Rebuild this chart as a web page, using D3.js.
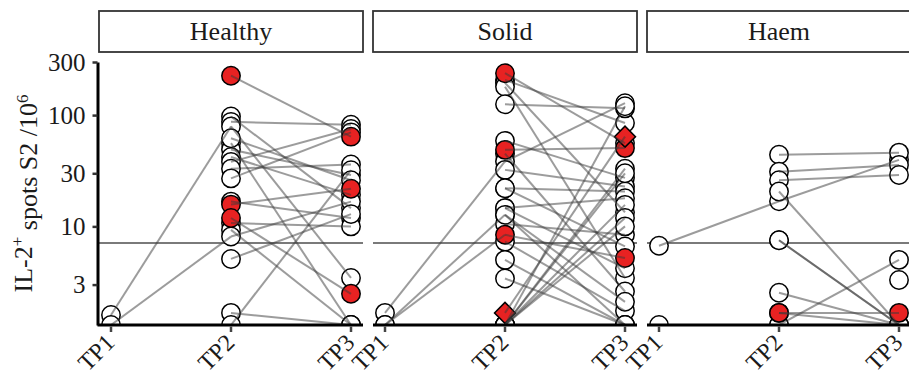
<!DOCTYPE html>
<html>
<head>
<meta charset="utf-8">
<script src="https://cdn.jsdelivr.net/npm/d3@7"></script>
<style>
  body { margin: 0; background: #fff; }
  svg { display: block; font-family: "Liberation Serif", "DejaVu Serif", serif; }
</style>
</head>
<body>
<figure id="chart" style="margin:0"></figure>
<script>
const timepoints = ["TP1", "TP2", "TP3"];
const panelNames = ["Healthy", "Solid", "Haem"];
const yTicks = [3, 10, 30, 100, 300];
const threshold = 7.1;

// one entry per patient, null = no sample; 1.3 = at/below the axis floor
// marks: o = open circle, r = red circle, d = red diamond
const healthyTP1 = [null, null, null, 1.6, null, null, null, null, null, null, null, null, null, null, null, 1.3, null, null, null, null];
const healthyTP2 = [226, 97, 87, 79, 56, 49, 42, 38, 33, 27, 16.7, 15.7, 11.9, 10.7, 9.3, 8.1, 5.1, 1.67, 1.3, 62];
const healthyTP3 = [64, 14.6, 82, 3.44, 1.3, 29, 19.2, 75, 36, 70, 11.9, 21.8, 2.48, 10, 1.3, 16.7, 12.9, 1.3, 32, 26];
const healthyMark2 = "r o o o o o o o o o o r r o o o o o o o".split(" ");
const healthyMark3 = "r o o o o o o o o o o r r o o o o o o o".split(" ");

const solidTP1 = [null, null, null, null, null, null, null, null, 1.67, null, null, null, 1.3, null, 1.3, null, null, null, null, null, null, null, null, null, null, null, null, null, null];
const solidTP2 = [238, 207, 195, 180, 125, 58.7, 48.7, 45, 38.3, 32.2, 22, 14.6, 12.7, 10.5, 8.4, 7.3, 5.0, 3.4, 1.67, 1.3, 1.3, 1.3, 1.3, 14.6, 22, 1.3, 12.7, 1.3, 1.3];
const solidTP3 = [56, 85, 13.4, 3.44, 115, 27.3, 50.5, 2.6, 128, 22.8, 20.6, 17.9, 1.3, 8.4, 5.2, 1.74, 1.3, 1.3, 64, 33, 15.6, 11.9, 1.3, 4.2, 6.6, 10, 2.1, 120, 30];
const solidMark2 = "r o o o o o r o o o o o o o r o o o d o o o o o o o o o o".split(" ");
const solidMark3 = "o o o o o o r o o o o o o o r o o o d o o o o o o o o o o".split(" ");

const haemTP1 = [6.7, null, null, null, null, null, null, null, null, null, null, null, null, 1.3];
const haemTP2 = [16.8, 44, 31, 26, 20.6, 7.5, 7.5, 2.53, 1.67, 1.67, 1.3, 1.3, null, null];
const haemTP3 = [39.6, 46, 35.7, 29, 1.3, 1.3, 1.3, 1.3, 1.67, 1.3, 5.0, 1.3, 3.3, null];
const haemMark2 = "o o o o o o o o r r o o o o".split(" ");
const haemMark3 = "o o o o o o o o r o o o o o".split(" ");

const panelData = [
  {tp: [healthyTP1, healthyTP2, healthyTP3], mark: [null, healthyMark2, healthyMark3]},
  {tp: [solidTP1, solidTP2, solidTP3], mark: [null, solidMark2, solidMark3]},
  {tp: [haemTP1, haemTP2, haemTP3], mark: [null, haemMark2, haemMark3]}
];

const width = 909, height = 377;
const panelX = [99, 373, 647];
const panelW = 264;
const plotTop = 62, plotBottom = 325;
const red = "#e82222";

const svg = d3.select("figure#chart")
  .append("svg")
  .attr("width", width)
  .attr("height", height);

const y = d3.scaleLog()
  .domain([1.3, 300])
  .range([plotBottom, plotTop]);

svg.append("defs").append("clipPath")
  .attr("id", "plotclip")
  .append("rect")
  .attr("x", 0).attr("y", 0)
  .attr("width", width).attr("height", plotBottom);

panelNames.forEach((name, p) => {
  const x0 = panelX[p];
  const x = d3.scalePoint()
    .domain(timepoints)
    .range([x0, x0 + panelW])
    .padding(0.1);

  // strip
  svg.append("rect")
    .attr("x", x0).attr("y", 11)
    .attr("width", panelW).attr("height", 41)
    .attr("fill", "#fff")
    .attr("stroke", "#333")
    .attr("stroke-width", 1.8);
  svg.append("text")
    .attr("x", x0 + panelW / 2)
    .attr("y", 40)
    .attr("text-anchor", "middle")
    .style("font-size", "26px")
    .attr("fill", "#1a1a1a")
    .text(name);

  // threshold
  svg.append("line")
    .attr("x1", x0).attr("x2", x0 + panelW)
    .attr("y1", y(threshold)).attr("y2", y(threshold))
    .attr("stroke", "#7a7a7a")
    .attr("stroke-width", 2);

  const g = svg.append("g").attr("clip-path", "url(#plotclip)");
  const d = panelData[p];

  // points
  const pts = [];
  d.tp.forEach((vals, t) => {
    vals.forEach((v, i) => {
      if (v == null) return;
      pts.push({t: timepoints[t], v: v, m: d.mark[t] ? d.mark[t][i] : "o"});
    });
  });
  pts.sort((a, b) => (a.m === "o" ? 0 : 1) - (b.m === "o" ? 0 : 1));

  g.selectAll("circle.pt")
    .data(pts.filter(q => q.m !== "d"))
    .enter()
    .append("circle")
    .attr("cx", q => x(q.t))
    .attr("cy", q => y(q.v))
    .attr("r", 9.2)
    .attr("fill", q => q.m === "r" ? red : "#fff")
    .attr("stroke", "#000")
    .attr("stroke-width", 1.5);

  g.selectAll("path.dia")
    .data(pts.filter(q => q.m === "d"))
    .enter()
    .append("path")
    .attr("d", d3.symbol().type(d3.symbolSquare).size(220))
    .attr("transform", q => "translate(" + x(q.t) + "," + y(q.v) + ") rotate(45)")
    .attr("fill", red)
    .attr("stroke", "#000")
    .attr("stroke-width", 1.5);

  // patient lines on top
  const segs = [];
  for (let i = 0; i < d.tp[0].length; i++) {
    for (let t = 0; t < 2; t++) {
      const a = d.tp[t][i], b = d.tp[t + 1][i];
      if (a != null && b != null) segs.push([t, a, b]);
    }
  }
  g.selectAll("line.seg")
    .data(segs)
    .enter()
    .append("line")
    .attr("x1", s => x(timepoints[s[0]]))
    .attr("x2", s => x(timepoints[s[0] + 1]))
    .attr("y1", s => y(s[1]))
    .attr("y2", s => y(s[2]))
    .attr("stroke", "#3a3a3a")
    .attr("stroke-opacity", 0.5)
    .attr("stroke-width", 2);

  // x axis
  svg.append("line")
    .attr("x1", p === 0 ? x0 - 1.5 : x0).attr("x2", x0 + panelW)
    .attr("y1", plotBottom).attr("y2", plotBottom)
    .attr("stroke", "#000")
    .attr("stroke-width", 3);
  timepoints.forEach(tp => {
    svg.append("line")
      .attr("x1", x(tp)).attr("x2", x(tp))
      .attr("y1", plotBottom + 1.5).attr("y2", plotBottom + 7)
      .attr("stroke", "#444")
      .attr("stroke-width", 2.5);
    svg.append("text")
      .attr("transform", "translate(" + (x(tp) + 5) + "," + 344 + ") rotate(-45)")
      .attr("text-anchor", "end")
      .style("font-size", "24px")
      .attr("fill", "#1a1a1a")
      .text(tp);
  });
});

// y axis on first panel
const yAxis = svg.append("g")
  .attr("transform", "translate(" + (panelX[0] - 1.5) + ",0)")
  .call(d3.axisLeft(y).tickValues(yTicks).tickFormat(d3.format("d")).tickSize(5).tickSizeOuter(0).tickPadding(7));
yAxis.select(".domain").attr("stroke", "#000").attr("stroke-width", 3);
yAxis.selectAll(".tick line").attr("stroke", "#333").attr("stroke-width", 2.5);
yAxis.selectAll(".tick text")
  .style("font-size", "25px")
  .style("font-family", "Liberation Serif, serif")
  .attr("fill", "#1a1a1a");

const title = svg.append("text")
  .attr("transform", "translate(32," + ((plotTop + plotBottom) / 2) + ") rotate(-90)")
  .attr("text-anchor", "middle")
  .style("font-size", "26px")
  .attr("fill", "#1a1a1a");
title.append("tspan").text("IL-2");
title.append("tspan").attr("dy", "-0.55em").style("font-size", "17px").text("+");
title.append("tspan").attr("dy", "0.55em").text(" spots S2 /10");
title.append("tspan").attr("dy", "-0.55em").style("font-size", "17px").text("6");
</script>
</body>
</html>
